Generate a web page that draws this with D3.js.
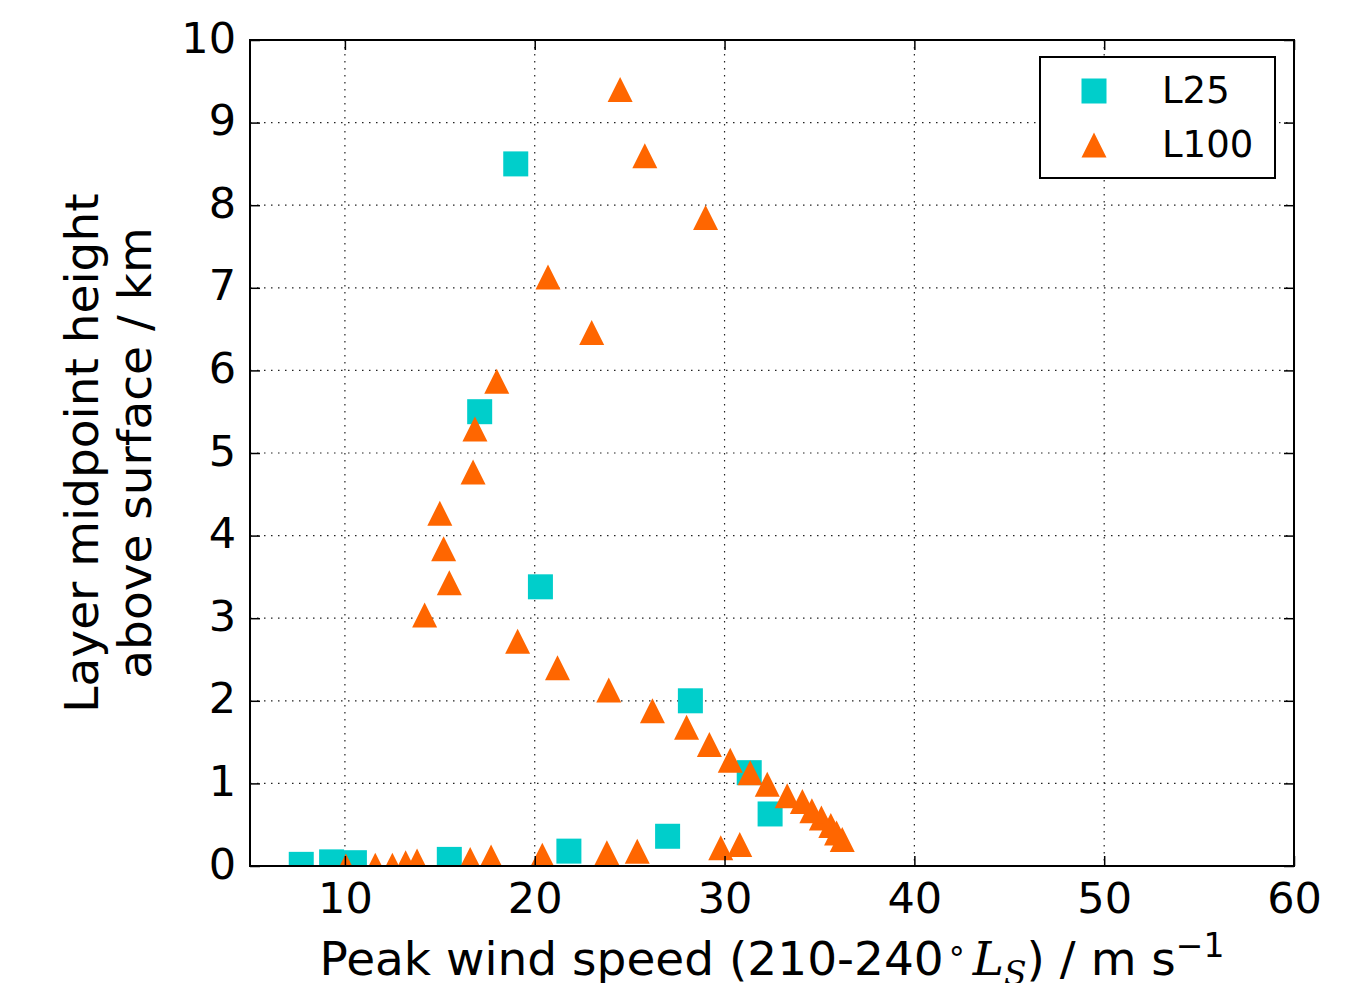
<!DOCTYPE html>
<html><head><meta charset="utf-8">
<script src="https://cdn.jsdelivr.net/npm/d3@7"></script>
<style>body{margin:0;background:#fff}svg{display:block}text{font-family:"DejaVu Sans",sans-serif}</style>
</head><body>
<svg id="c" width="1361" height="983"></svg>
<script>
const l25Speed  = [7.7, 9.3, 10.5, 15.5, 21.8, 27.0, 32.4, 31.3, 28.2, 20.3, 17.1, 19.0];
const l25Height = [0.02, 0.05, 0.04, 0.08, 0.18, 0.36, 0.63, 1.13, 2.0, 3.38, 5.5, 8.5];
const l100Speed  = [10.05, 11.6, 12.5, 13.2, 13.8, 16.6, 17.7, 20.4, 23.8, 25.4, 29.8, 30.8,
  36.2, 35.9, 35.6, 35.1, 34.6, 34.1, 33.3, 32.25, 31.35, 30.3, 29.2, 28.0, 26.2, 23.9, 21.2, 19.1,
  14.2, 15.5, 15.2, 15.0, 16.75, 16.85, 18.0, 23.0, 20.7, 29.0, 25.8, 24.5];
const l100Height = [0.0, 0.01, 0.01, 0.04, 0.06, 0.08, 0.11, 0.13, 0.16, 0.18, 0.22, 0.26,
  0.32, 0.40, 0.49, 0.58, 0.67, 0.78, 0.85, 0.99, 1.13, 1.28, 1.47, 1.68, 1.88, 2.13, 2.40, 2.72,
  3.04, 3.43, 3.84, 4.27, 4.77, 5.29, 5.87, 6.46, 7.13, 7.85, 8.6, 9.4];
const xTicks = [10, 20, 30, 40, 50, 60];
const yTicks = [0, 1, 2, 3, 4, 5, 6, 7, 8, 9, 10];
const seriesNames = ["L25", "L100"];
const seriesColors = ["#00cecb", "#ff6600"];

const svg = d3.select("#c");
const L = 250, R = 1294, T = 40, B = 866;
const x = d3.scaleLinear().domain([5, 60]).range([L, R]);
const y = d3.scaleLinear().domain([0, 10]).range([B, T]);

// grid
const grid = svg.append("g");
grid.selectAll(".gx").data(xTicks).join("line")
  .attr("x1", d => x(d)).attr("x2", d => x(d)).attr("y1", T).attr("y2", B)
  .attr("stroke", "#222").attr("stroke-width", 1.2).attr("stroke-dasharray", "1.5,5.5");
grid.selectAll(".gy").data(yTicks).join("line")
  .attr("y1", d => y(d)).attr("y2", d => y(d)).attr("x1", L).attr("x2", R)
  .attr("stroke", "#222").attr("stroke-width", 1.2).attr("stroke-dasharray", "1.5,5.5");

svg.append("clipPath").attr("id", "clip").append("rect")
  .attr("x", L).attr("y", T).attr("width", R - L).attr("height", B - T);
const pts = svg.append("g").attr("clip-path", "url(#clip)");

const sq = 25;
const l25 = l25Speed.map((v, i) => [v, l25Height[i]]);
const l100 = l100Speed.map((v, i) => [v, l100Height[i]]);
pts.selectAll(".s").data(l25).join("rect")
  .attr("x", d => x(d[0]) - sq / 2).attr("y", d => y(d[1]) - sq / 2)
  .attr("width", sq).attr("height", sq).attr("fill", seriesColors[0]);
function triPath(h) { return `M0,${-h/2}L${h/2},${h/2}L${-h/2},${h/2}Z`; }
pts.selectAll(".t").data(l100).join("path")
  .attr("d", triPath(25))
  .attr("transform", d => `translate(${x(d[0])},${y(d[1])})`)
  .attr("fill", seriesColors[1]);

// axes with inward ticks
const tickLen = 10;
const fs = 43;
const xa = svg.append("g").attr("transform", `translate(0,${B})`)
  .call(d3.axisBottom(x).tickValues(xTicks).tickSize(-tickLen).tickPadding(16));
const xt = svg.append("g").attr("transform", `translate(0,${T})`)
  .call(d3.axisTop(x).tickValues(xTicks).tickSize(-tickLen).tickFormat(""));
const ya = svg.append("g").attr("transform", `translate(${L},0)`)
  .call(d3.axisLeft(y).tickValues(yTicks).tickSize(-tickLen).tickPadding(14));
const yr = svg.append("g").attr("transform", `translate(${R},0)`)
  .call(d3.axisRight(y).tickValues(yTicks).tickSize(-tickLen).tickFormat(""));
[xa, xt, ya, yr].forEach(g => {
  g.select(".domain").remove();
  g.selectAll(".tick line").attr("stroke", "#000").attr("stroke-width", 1.5);
  g.selectAll(".tick text").attr("font-size", fs).attr("fill", "#000")
    .attr("font-family", "DejaVu Sans");
});
xa.selectAll(".tick text").attr("dy", "0.71em");
ya.selectAll(".tick text").attr("dy", "0.28em");

svg.append("rect").attr("x", L).attr("y", T).attr("width", R - L).attr("height", B - T)
  .attr("fill", "none").attr("stroke", "#000").attr("stroke-width", 2);

// x label
const lfs = 47;
const xl = svg.append("text").attr("x", (L + R) / 2).attr("y", 975)
  .attr("text-anchor", "middle").attr("font-size", lfs).attr("fill", "#000");
xl.append("tspan").text("Peak wind speed (210-240");
xl.append("tspan").text("\u2218").attr("dy", -14).attr("font-size", 32).attr("dx", 3);
xl.append("tspan").text("L").attr("dy", 14).attr("dx", 6).attr("font-family", "DejaVu Serif").attr("font-style", "italic");
xl.append("tspan").text("S").attr("dy", 10).attr("font-size", 33).attr("font-family", "DejaVu Serif").attr("font-style", "italic");
xl.append("tspan").text(") / m s").attr("dy", -10);
xl.append("tspan").text("\u22121").attr("dy", -18).attr("font-size", 33);

// y label
const yl = svg.append("text").attr("transform", `translate(0,${(T + B) / 2}) rotate(-90)`)
  .attr("text-anchor", "middle").attr("font-size", lfs).attr("fill", "#000");
yl.append("tspan").attr("x", 0).attr("y", 98).text("Layer midpoint height");
yl.append("tspan").attr("x", 0).attr("y", 151).text("above surface / km");

// legend
const lg = svg.append("g");
lg.append("rect").attr("x", 1040).attr("y", 57).attr("width", 235).attr("height", 121)
  .attr("fill", "#fff").attr("stroke", "#000").attr("stroke-width", 2);
lg.append("rect").attr("x", 1094 - sq / 2).attr("y", 91 - sq / 2).attr("width", sq).attr("height", sq)
  .attr("fill", seriesColors[0]);
lg.append("path").attr("d", triPath(25)).attr("transform", "translate(1094,145)").attr("fill", seriesColors[1]);
lg.selectAll(".lt").data(seriesNames).join("text")
  .attr("x", 1162).attr("y", (d, i) => 103 + i * 54)
  .attr("font-size", 37).attr("fill", "#000").text(d => d);
</script>
</body></html>
